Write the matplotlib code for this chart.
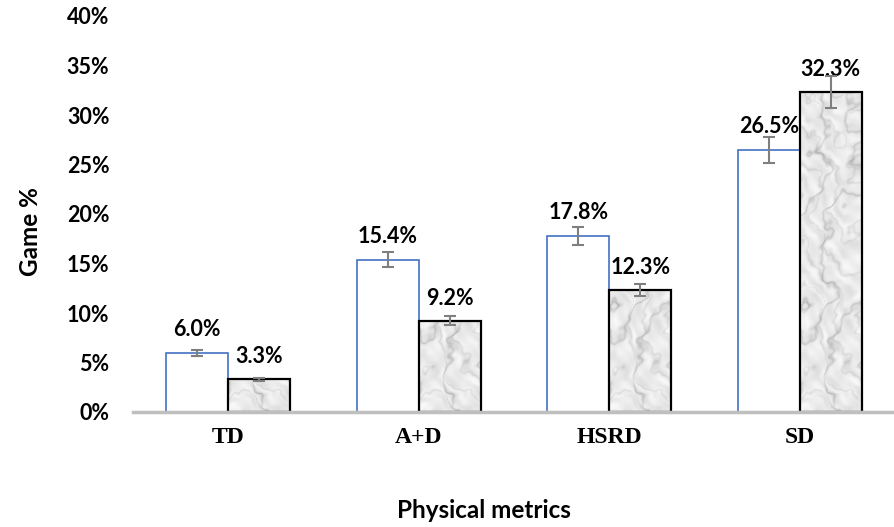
import numpy as np
import matplotlib
matplotlib.use("Agg")
import matplotlib.pyplot as plt

categories = ['TD', 'A+D', 'HSRD', 'SD']
series_a = [6.0, 15.4, 17.8, 26.5]
series_b = [3.3, 9.2, 12.3, 32.3]
err_a = [0.3, 0.8, 0.9, 1.3]
err_b = [0.15, 0.45, 0.6, 1.6]
yticks = [0, 5, 10, 15, 20, 25, 30, 35, 40]


def marble(h, w):
    # soft grey/white marble look, built from sines only
    yy, xx = np.mgrid[0:h, 0:w] / 25.0
    turb = np.zeros((h, w))
    amp = 1.0
    for fx, fy, ph in [(0.9, 0.5, 0.3), (1.7, 1.3, 1.9), (3.3, 2.1, 0.8), (6.1, 4.7, 2.6), (11.3, 8.9, 1.2)]:
        turb += amp * np.sin(fx * xx + fy * yy + ph) * np.cos(0.7 * fy * xx - 0.8 * fx * yy + ph)
        amp *= 0.55
    v1 = np.abs(np.sin(xx * 0.9 + yy * 0.7 + turb * 2.0))
    v2 = np.abs(np.sin(xx * 1.6 - yy * 1.1 + turb * 2.6 + 1.0))
    mott = (np.sin(xx * 4.3 + turb * 3) * np.sin(yy * 3.9 - turb * 2)
            + 0.5 * np.sin(xx * 9.1 - yy * 7.3 + turb * 4))
    img = 0.92 - 0.16 * (1 - v1) ** 5 - 0.10 * (1 - v2) ** 7 - 0.035 * mott
    return np.clip(img, 0.6, 0.97)


plt.rcParams['font.family'] = ['Lato', 'DejaVu Sans']
plt.rcParams['font.weight'] = 'bold'

fig = plt.figure(figsize=(8.95, 5.27), dpi=100)
ax = fig.add_axes([133 / 895, 1 - 412 / 527, 1 - 133 / 895, (412 - 16) / 527])

x = np.arange(len(categories))
w = 0.325
bars_a = ax.bar(x - w / 2, series_a, w, facecolor='white', edgecolor='#4472c4', linewidth=1.2, zorder=2)
bars_b = ax.bar(x + w / 2, series_b, w, facecolor='none', edgecolor='black', linewidth=1.6, zorder=3)

tex = marble(330, 64)
for b in bars_b:
    im = ax.imshow(tex, cmap='gray', vmin=0, vmax=1, aspect='auto', zorder=2.5,
                   extent=[b.get_x(), b.get_x() + b.get_width(), 0, 33], interpolation='bilinear')
    im.set_clip_path(b)

ax.errorbar(x - w / 2, series_a, yerr=err_a, fmt='none', ecolor='#7f7f7f', elinewidth=1.5, capsize=4.5, capthick=1.5, zorder=4)
ax.errorbar(x + w / 2, series_b, yerr=err_b, fmt='none', ecolor='#7f7f7f', elinewidth=1.5, capsize=4.5, capthick=1.5, zorder=4)

for xs, vals in [(x - w / 2, series_a), (x + w / 2, series_b)]:
    for xi, v in zip(xs, vals):
        ax.annotate('%.1f%%' % v, (xi, v), xytext=(0, 16.5), textcoords='offset points',
                    ha='center', va='center', fontsize=15.5, fontweight='bold')

ax.set_xlim(-0.5, 3.5)
ax.set_ylim(0, 40)
ax.set_yticks(yticks)
ax.set_yticklabels(['%d%%' % t for t in yticks], fontsize=15.5, fontweight='bold')
ax.set_xticks(x)
ax.set_xticklabels(categories, fontsize=17, fontweight='bold', family='Liberation Serif')
ax.tick_params(axis='y', length=0, pad=17)
ax.tick_params(axis='x', length=0, pad=11)
for s in ['top', 'right', 'left']:
    ax.spines[s].set_visible(False)
ax.spines['bottom'].set_color('#bfbfbf')
ax.spines['bottom'].set_linewidth(2.5)
ax.spines['bottom'].set_zorder(5)
ax.patch.set_visible(False)

fig.text(484 / 895, 1 - 510 / 527, 'Physical metrics', ha='center', va='center', fontsize=17.5, fontweight='bold')
fig.text(31 / 895, 1 - 232 / 527, 'Game %', ha='center', va='center', rotation=90, fontsize=17.5, fontweight='bold')

fig.savefig('out.png', dpi=100)
